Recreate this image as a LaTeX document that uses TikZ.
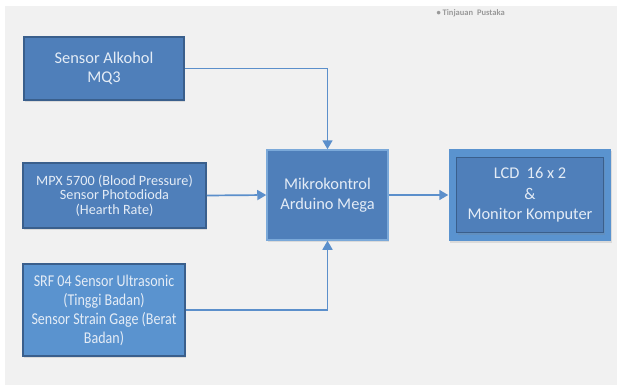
\documentclass[tikz,border=0pt]{standalone}
\usepackage{fontspec}
\setmainfont{Carlito}
\newfontfamily\narrowfont[FakeStretch=0.85]{Carlito}
\usetikzlibrary{arrows.meta,shadows}
\definecolor{bgcol}{HTML}{F1F1F1}
\definecolor{boxblue}{HTML}{4F7FBA}
\definecolor{lightblue}{HTML}{5A93CF}
\definecolor{edgeblue}{HTML}{3A5F8C}
\definecolor{wireblue}{HTML}{5B8FCB}
\definecolor{txtcol}{HTML}{E4ECF6}
\tikzset{
  block/.style={draw=edgeblue, line width=1.5pt, fill=boxblue, text=txtcol,
    align=center, inner sep=0pt,
    drop shadow={opacity=0.2, shadow xshift=1pt, shadow yshift=-2pt}},
  wire/.style={draw=wireblue, line width=1.7pt,
    -{Triangle[length=9pt,width=10pt]}}
}
\begin{document}
\begin{tikzpicture}[x=1pt,y=-1pt]
  \useasboundingbox (0,0) rectangle (617,385);
  \fill[bgcol] (5,6) rectangle (617,385);
  \node[anchor=west, text=black!40, font=\bfseries\fontsize{8.5}{9}\selectfont]
    (judul) at (433,13) {\textbullet\ Tinjauan~~Pustaka};
  \node[block, minimum width=160pt, minimum height=63pt,
    font=\fontsize{16.4}{19}\selectfont]
    (alkohol) at (104,68.5) {Sensor Alkohol\\MQ3};
  \node[block, minimum width=183pt, minimum height=65pt,
    font=\fontsize{14.2}{14.7}\selectfont]
    (mpx) at (114.5,195.5) {MPX 5700 (Blood Pressure)\\Sensor Photodioda\\(Hearth Rate)};
  \node[block, fill=lightblue, minimum width=162pt, minimum height=92pt,
    font=\narrowfont\fontsize{16.5}{19}\selectfont]
    (srf) at (104,310) {SRF 04 Sensor Ultrasonic\\(Tinggi Badan)\\Sensor Strain Gage (Berat\\Badan)};
  \node[block, draw=lightblue!80, minimum width=121pt, minimum height=90pt,
    font=\fontsize{16.4}{20}\selectfont]
    (mikro) at (327.5,195) {Mikrokontrol\\Arduino Mega};
  \node[block, draw=none, fill=lightblue, minimum width=162pt, minimum height=92pt]
    (lcd) at (530,195) {};
  \node[block, drop shadow={opacity=0}, minimum width=147pt, minimum height=75pt,
    font=\fontsize{16.4}{20.5}\selectfont]
    (lcdin) at (lcd) {LCD~~16 x 2\\\&\\Monitor Komputer};
  \draw[wire] (alkohol.east) -| (mikro.north);
  \draw[wire] (srf.east) -| (mikro.south);
  \draw[wire] (mpx.east) -- (mikro.west);
  \draw[wire] (mikro.east) -- (lcd.west);
\end{tikzpicture}
\end{document}
